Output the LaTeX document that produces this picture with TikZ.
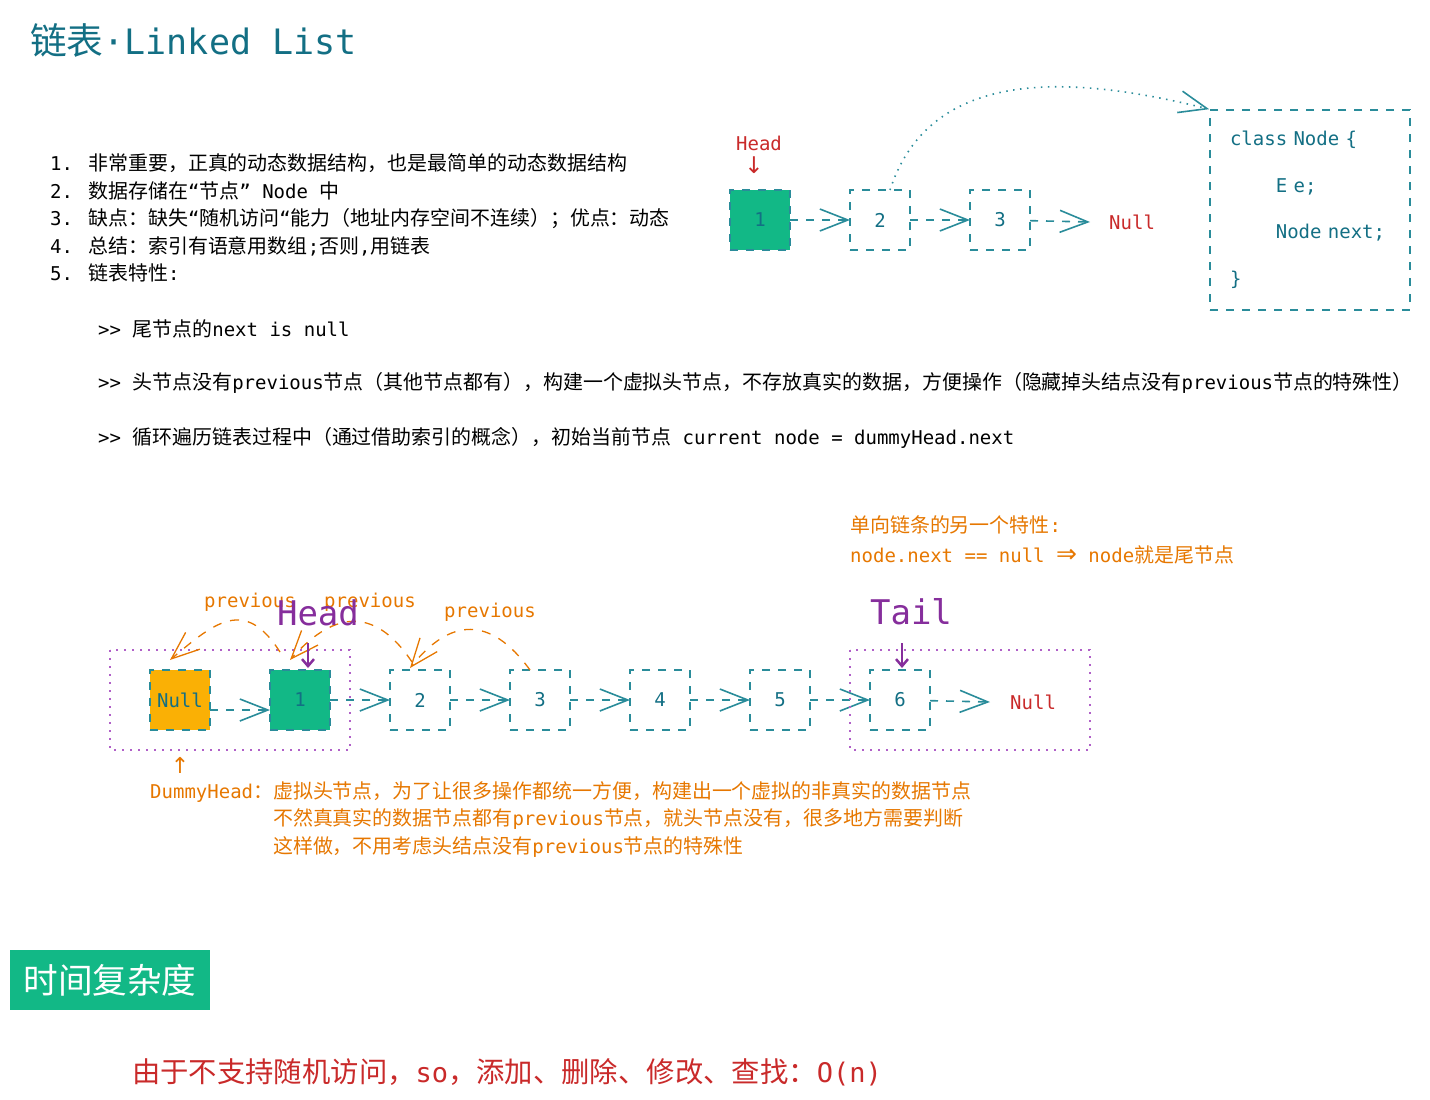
\documentclass[tikz,border=0pt]{standalone}
\usepackage{fontspec}
\setmainfont{DejaVu Sans Mono}
\newfontfamily\cjk[Scale=1.05]{Noto Sans CJK SC}
\newfontfamily\sym{DejaVu Sans}
\newcommand\zh[1]{{\cjk #1}}
\newcommand\bullgt{>\kern0pt>}
\usetikzlibrary{arrows.meta,positioning}
\definecolor{boxline}{HTML}{2A8C9A}
\definecolor{tealtxt}{HTML}{136F84}
\definecolor{greenfill}{HTML}{12B886}
\definecolor{yellowfill}{HTML}{FAB005}
\definecolor{orng}{HTML}{E67700}
\definecolor{redc}{HTML}{C92A2A}
\definecolor{purp}{HTML}{862E9C}
\definecolor{dotpurple}{HTML}{B060C8}

\begin{document}
\begin{tikzpicture}[x=1pt,y=-1pt]
      \tikzstyle{cell}=[rectangle, minimum size=60pt, outer sep=0pt, line width=1.6pt, draw=boxline, dash pattern=on 8pt off 8pt, text=tealtxt, font=\fontsize{19}{23}\selectfont, node distance=60pt]
      \tikzstyle{cellhead}=[cell, fill=greenfill]
      \tikzstyle{celldummy}=[cell, fill=yellowfill]
      \tikzstyle{link}=[-{Straight Barb[length=28pt,width=22pt]}, line width=1.6pt, draw=boxline, dash pattern=on 8pt off 8pt]
      \tikzstyle{dotlink}=[-{Straight Barb[length=28pt,width=22pt]}, line width=1.6pt, draw=boxline, dash pattern=on 1.5pt off 5.5pt]
      \tikzstyle{prev}=[-{Straight Barb[length=28pt,width=22pt]}, line width=1.3pt, draw=orng, dash pattern=on 9pt off 9pt]
      \tikzstyle{pointer}=[-{Straight Barb[length=7pt,width=12pt]}, line width=2.5pt, draw=purp]
      \tikzstyle{dotbox}=[draw=dotpurple, line width=1.8pt, dash pattern=on 2pt off 6pt]
      \tikzstyle{txt}=[anchor=west, inner sep=0pt, align=left, font=\fontsize{19}{27.5}\selectfont]
      \tikzstyle{codebox}=[rectangle, draw=boxline, line width=1.6pt, dash pattern=on 8pt off 8pt, minimum height=200pt, text width=160pt, inner xsep=20pt, align=left, text=tealtxt, font=\fontsize{19}{46.5}\selectfont]
      \tikzstyle{tag}=[inner sep=0pt, text=purp, font=\fontsize{34}{40}\selectfont]

      \useasboundingbox (0,0) rectangle (1430,1100);

      % notes
      \node[txt, text=tealtxt, font=\fontsize{35}{40}\selectfont] (title) at (30,40) {\zh{链表}·Linked List};
      \node[txt] (notes) at (50,218) {1. \zh{非常重要，正真的动态数据结构，也是最简单的动态数据结构}\\
        2. \zh{数据存储在}“\zh{节点}” Node \zh{中}\\
        3. \zh{缺点：缺失}“\zh{随机访问}“\zh{能力（地址内存空间不连续）；优点：动态}\\
        4. \zh{总结：索引有语意用数组};\zh{否则},\zh{用链表}\\
        5. \zh{链表特性}:};
      \node[txt] (r1) at (98,329) {\bullgt{} \zh{尾节点的}next is null};
      \node[txt] (r2) at (98,383) {\bullgt{} \zh{头节点没有}previous\zh{节点（其他节点都有），构建一个虚拟头节点，不存放真实的数据，方便操作（隐藏掉头结点没有}previous\zh{节点的特殊性）}};
      \node[txt] (r3) at (98,438) {\bullgt{} \zh{循环遍历链表过程中（通过借助索引的概念），初始当前节点} current node = dummyHead.next};

      % small list
      \node[txt, anchor=center, align=center, text=redc, font=\fontsize{19}{23}\selectfont] (thead) at (759,155) {Head\\{\sym\fontsize{23}{23}\selectfont\hspace*{-10pt}↓}};
      \node[cellhead] (t1) at (760,220) {1};
      \node[cell] (t2) [right=of t1] {2};
      \node[cell] (t3) [right=of t2] {3};
      \node[txt, text=redc] (tnull) at (1109,222) {Null};
      \node[codebox] (cls) at (1310,210) {class Node \{\\\hspace*{45.8pt}E e;\\\hspace*{45.8pt}Node next;\\\}};

      \path (t1) edge [link] (t2)
            (t2) edge [link] (t3);
      \draw[link] (t3) -- ([xshift=-19pt]tnull.west);
      \draw[dotlink] ([xshift=10pt]t2.north) .. controls +(40,-123) and +(-140,-35) .. (cls.north west);

      % list with dummy head
      \node[celldummy] (nul) at (180,700) {Null};
      \node[cellhead] (b1) [right=of nul] {1};
      \node[cell] (b2) [right=of b1] {2};
      \node[cell] (b3) [right=of b2] {3};
      \node[cell] (b4) [right=of b3] {4};
      \node[cell] (b5) [right=of b4] {5};
      \node[cell] (b6) [right=of b5] {6};
      \node[txt, text=redc] (bnull) at (1010,702) {Null};

      \draw[link] ([yshift=-10pt]nul.east) -- ([yshift=-10pt]b1.west);
      \path (b1) edge [link] (b2)
            (b2) edge [link] (b3)
            (b3) edge [link] (b4)
            (b4) edge [link] (b5)
            (b5) edge [link] (b6);
      \draw[link] (b6) -- ([xshift=-20pt]bnull.west);

      \draw[dotbox] ([xshift=-40pt,yshift=20pt]nul.north west) rectangle ([xshift=20pt,yshift=-20pt]b1.south east);
      \draw[dotbox] ([xshift=-20pt,yshift=20pt]b6.north west) rectangle ([xshift=160pt,yshift=-20pt]b6.south east);

      \node[txt, anchor=center, text=orng] (p1) at (250,602) {previous};
      \node[txt, anchor=center, text=orng] (p2) at (370,602) {previous};
      \node[txt, anchor=center, text=orng] (p3) at (490,612) {previous};
      \draw[prev] ([xshift=10pt,yshift=18pt]b1.north west) .. controls +(-35,-55) and +(45,-38) .. ([xshift=20pt,yshift=10pt]nul.north west);
      \draw[prev] ([xshift=22pt,yshift=8pt]b2.north west) .. controls +(-40,-60) and +(40,-45) .. ([xshift=20pt,yshift=10pt]b1.north west);
      \draw[prev] ([xshift=20pt]b3.north west) .. controls +(-40,-55) and +(40,-50) .. ([xshift=20pt,yshift=2pt]b2.north west);

      \node[tag] (hd) at (318,613) {Head};
      \node[tag] (tl) at (911,612) {Tail};
      \draw[pointer] ([xshift=8pt,yshift=27pt]b1.north) -- ([xshift=8pt,yshift=2pt]b1.north);
      \draw[pointer] ([xshift=2pt,yshift=27pt]b6.north) -- ([xshift=2pt,yshift=2pt]b6.north);

      \node[txt, text=orng, font=\fontsize{19}{30}\selectfont] (rule) at (850,540) {\zh{单向链条的另一个特性}:\\node.next == null {\sym\fontsize{25}{30}\selectfont ⇒} node\zh{就是尾节点}};
      \node[txt, anchor=center, text=orng, font=\sym\fontsize{22}{22}\selectfont] (up) at (180,765) {↑};
      \node[txt, text=orng] (dummy) at (150,820) {\begin{tabular}{@{}l@{}l@{}}
        DummyHead\zh{：} & \zh{虚拟头节点，为了让很多操作都统一方便，构建出一个虚拟的非真实的数据节点}\\
        & \zh{不然真真实的数据节点都有}previous\zh{节点，就头节点没有，很多地方需要判断}\\
        & \zh{这样做，不用考虑头结点没有}previous\zh{节点的特殊性}
      \end{tabular}};

      % complexity
      \node[fill=greenfill, text=white, inner sep=0pt, minimum width=200pt, minimum height=60pt, font=\fontsize{33}{40}\selectfont\cjk] (tc) at (110,980) {时间复杂度};
      \node[txt, text=redc, font=\fontsize{27}{30}\selectfont] (cost) at (132,1072) {\zh{由于不支持随机访问，}so\zh{，添加、删除、修改、查找：}O(n)};
    \end{tikzpicture}
\end{document}
